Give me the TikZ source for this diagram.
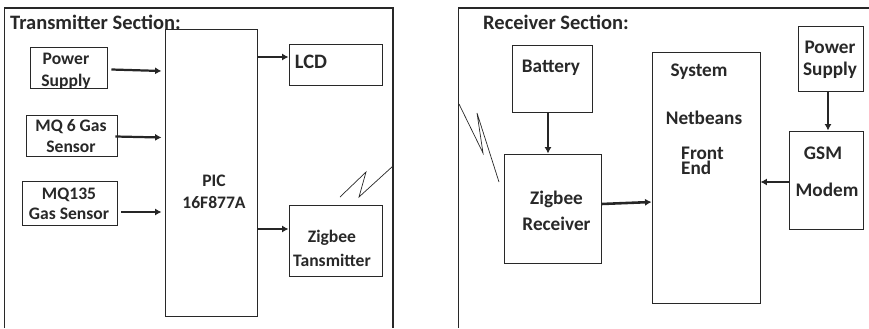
\documentclass[tikz,border=0pt]{standalone}
\usepackage{fontspec}
\setmainfont{Carlito}[BoldFont={Carlito Bold}]
\usetikzlibrary{arrows.meta, positioning}
\definecolor{inkgray}{RGB}{40,40,40}
\tikzset{
  blockbox/.style 2 args={draw=inkgray,line width=0.8pt,fill=white,inner sep=0pt,minimum width=#1*0.03cm,minimum height=#2*0.03cm},
  blocktext/.style={font=\bfseries\fontsize{15}{16.5}\selectfont,text=inkgray,align=center,inner sep=0pt},
  bigtext/.style={blocktext,font=\bfseries\fontsize{16.4}{19}\selectfont},
  headtext/.style={font=\bfseries\fontsize{17.5}{20}\selectfont,text=inkgray,inner sep=0pt},
  conn/.style={-{Latex[length=5.5pt,width=6pt]},line width=1.9pt,draw=black!85},
  frameline/.style={draw=inkgray,line width=1pt},
  zigzag/.style={draw=inkgray,line width=0.6pt}
}
\begin{document}
\begin{tikzpicture}[x=0.03cm,y=-0.03cm]
\useasboundingbox (0,0) rectangle (869,328);

% Transmitter side
\draw[frameline] (4.5,328) -- (4.5,8) -- (393,8) -- (393,328);
\node[headtext,anchor=west] (txhead) at (10,22) {Transmitter Section:};

\node[blockbox={77}{41}] (txpower) at (68.5,67.5) {};
\node[blockbox={91}{41}] (mqsix) at (71.5,135.5) {};
\node[blockbox={95}{44}] (mqone) at (69.5,203) {};
\node[blockbox={92}{287}] (pic) at (211,172.5) {};
\node[blockbox={93}{41}] (lcd) at (335.5,64.5) {};
\node[blockbox={93}{71}] (zigtx) at (335.5,240.5) {};

\node[blocktext] (txpowertxt) at (66,71) {Power\\[2.5pt]Supply};
\node[blocktext] (mqsixtxt) at (71,136) {MQ 6 Gas\\[1pt]Sensor};
\node[blocktext] (mqonetxt) at (69,204) {MQ135\\[1pt]Gas Sensor};
\node[blocktext] (pictxt) at (214,191.5) {PIC\\[2pt]16F877A};
\node[blocktext,font=\bfseries\fontsize{17.5}{19}\selectfont] (lcdtxt) at (311,62) {LCD};
\node[blocktext] (zigtxtxt) at (332,248) {Zigbee\\[4pt]Tansmitter};

% Arrows
\draw[conn] ([shift={(4,2)}]txpower.east) -- ([shift={(-3,3.5)}]txpower.east -| pic.west);
\draw[conn] ([shift={(-2,1)}]mqsix.east) -- ([shift={(-3,2)}]mqsix.east -| pic.west);
\draw[conn] ([shift={(4,9)}]mqone.east) -- ([shift={(-3,9)}]mqone.east -| pic.west);
\draw[conn] ([yshift=7.5*0.03cm]lcd.west -| pic.east) -- ([yshift=7.5*0.03cm]lcd.west);
\draw[conn] ([yshift=11.5*0.03cm]zigtx.west -| pic.east) -- ([yshift=11.5*0.03cm]zigtx.west);

% Link
\draw[zigzag] (340,197) -- (366,172) -- (359,197) -- (393,166);

% Receiver side
\draw[frameline] (458.5,328) -- (458.5,8) -- (869,8);
\node[headtext,anchor=west] (rxhead) at (483,22) {Receiver Section:};

\node[blockbox={80}{67}] (battery) at (552,78.5) {};
\node[blockbox={97}{109}] (zigrx) at (552.5,208.5) {};
\node[blockbox={108}{251}] (system) at (706,177.5) {};
\node[blockbox={65}{65}] (rxpower) at (830.5,58.5) {};
\node[blockbox={74}{98}] (gsm) at (826,180) {};

\node[bigtext] (batterytxt) at (551,68) {Battery};
\node[bigtext] (zigrxtxt) at (556.5,211) {Zigbee\\[3pt]Receiver};
\node[bigtext] (systemtxt) at (699,72) {System};
\node[bigtext] (netbeanstxt) at (704,118) {Netbeans};
\node[blocktext,align=left,anchor=west,font=\bfseries\fontsize{16.4}{13}\selectfont] (fronttxt) at (681,161) {Front\\End};
\node[bigtext] (rxpowertxt) at (830,60) {Power\\Supply};
\node[bigtext] (gsmtxt) at (823,153) {GSM};
\node[bigtext] (modemtxt) at (827,190) {Modem};

% Arrows
\draw[conn] ([xshift=-4*0.03cm]battery.south) -- ([xshift=-4*0.03cm]battery.south |- zigrx.north);
\draw[conn,line width=2.2pt] ([yshift=4.5*0.03cm]zigrx.east) -- ([yshift=6.5*0.03cm]zigrx.east -| system.west);
\draw[conn] ([yshift=-2*0.03cm]gsm.west) -- ([yshift=-2*0.03cm]gsm.west -| system.east);
\draw[conn] ([xshift=-2.5*0.03cm]rxpower.south) -- ([xshift=-2.5*0.03cm]rxpower.south |- gsm.north);

% Link
\draw[zigzag] (459,104) -- (483,153) -- (477,113) -- (499,182);
\end{tikzpicture}
\end{document}
